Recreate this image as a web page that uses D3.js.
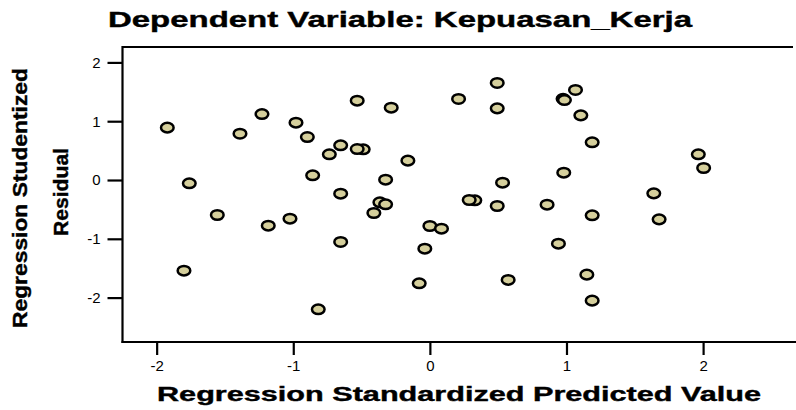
<!DOCTYPE html>
<html>
<head>
<meta charset="utf-8">
<script src="https://cdn.jsdelivr.net/npm/d3@7"></script>
<style>
  body { margin: 0; background: #fff; }
  svg { display: block; font-family: "Liberation Sans", Arial, sans-serif; }
</style>
</head>
<body>
<svg id="chart" width="796" height="410"></svg>
<script>
// Regression standardized predicted value (x) and studentized residual (y)
var predicted = [
  -1.922, -1.761, -1.556, -1.80, -1.39, -1.229, -1.183, -1.024, -0.980, -0.897,
  -0.858, -0.817, -0.736, -0.653, -0.653, -0.653, -0.532, -0.488, -0.532, -0.410,
  -0.366, -0.324, -0.324, -0.283, -0.161, -0.078, -0.037, 0.0, 0.085, 0.21,
  0.493, 0.493, 0.975, 0.985, 1.066, 1.105, 1.188, 0.98, 0.532, 0.329,
  0.288, 0.493, 0.858, 1.188, 0.941, 0.573, 1.149, 1.188, 1.965, 2.004,
  1.639, 1.678
];
var residual = [
  0.89, -0.056, -0.595, -1.542, 0.787, 1.122, -0.777, -0.658, 0.975, 0.731,
  0.08, -2.199, 0.437, 0.59, -0.233, -1.054, 1.349, 0.522, 0.527, -0.561,
  -0.379, -0.413, 0.005, 1.23, 0.329, -1.757, -1.168, -0.782, -0.828, 1.378,
  1.65, 1.219, 1.38, 1.36, 1.531, 1.10, 0.641, 0.124, -0.046, -0.345,
  -0.34, -0.442, -0.42, -0.6, -1.083, -1.70, -1.61, -2.052, 0.437, 0.204,
  -0.227, -0.669
];
var xTicks = [-2, -1, 0, 1, 2];
var yTicks = [-2, -1, 0, 1, 2];

var title = 'Dependent Variable: Kepuasan_Kerja';
var xTitle = 'Regression Standardized Predicted Value';
var yTitle = ['Regression Studentized', 'Residual'];

var svg = d3.select('#chart');

// plot area
var plotL = 122.5, plotR = 796, plotT = 47, plotB = 342;

var x = d3.scaleLinear().domain([-2.25, 2.68]).range([plotL, plotR]);
var y = d3.scaleLinear().domain([-2.755, 2.262]).range([plotB, plotT]);

// frame top line (right edge is cut off in the picture)
svg.append('line')
  .attr('x1', plotL).attr('x2', 793).attr('y1', plotT).attr('y2', plotT)
  .attr('stroke', '#000').attr('stroke-width', 2.2);

// x axis
var xAxis = svg.append('g')
  .attr('transform', 'translate(0,' + plotB + ')')
  .call(d3.axisBottom(x).tickValues(xTicks).tickSize(13).tickSizeOuter(0).tickPadding(5)
    .tickFormat(function(d) { return String(d); }));
xAxis.select('.domain').remove();
xAxis.selectAll('line').attr('stroke-width', 2.2);
xAxis.selectAll('text').attr('font-size', 15).attr('fill', '#000')
  .attr('font-family', '"Liberation Sans", Arial, sans-serif');

// y axis
var yAxis = svg.append('g')
  .attr('transform', 'translate(' + plotL + ',0)')
  .call(d3.axisLeft(y).tickValues(yTicks).tickSize(15).tickSizeOuter(0).tickPadding(7)
    .tickFormat(function(d) { return String(d); }));
yAxis.select('.domain').remove();
yAxis.selectAll('line').attr('stroke-width', 2.2);
yAxis.selectAll('text').attr('font-size', 15).attr('fill', '#000')
  .attr('font-family', '"Liberation Sans", Arial, sans-serif');

svg.append('line')
  .attr('x1', plotL).attr('x2', plotL).attr('y1', plotT - 1).attr('y2', plotB + 1)
  .attr('stroke', '#000').attr('stroke-width', 2.2);
svg.append('line')
  .attr('x1', plotL - 1).attr('x2', plotR).attr('y1', plotB).attr('y2', plotB)
  .attr('stroke', '#000').attr('stroke-width', 2.2);

// points
var pts = predicted.map(function(d, i) { return {p: d, r: residual[i]}; });
svg.append('g').selectAll('ellipse')
  .data(pts)
  .enter().append('ellipse')
    .attr('cx', function(d) { return x(d.p); })
    .attr('cy', function(d) { return y(d.r); })
    .attr('rx', 6.3)
    .attr('ry', 4.8)
    .attr('fill', '#d5cf9c')
    .attr('stroke', '#000')
    .attr('stroke-width', 2.5);

// titles (slight stroke to get the heavy look of the original)
function heavy(t) {
  return t.attr('font-weight', 'bold').attr('fill', '#000')
    .attr('stroke', '#000').attr('stroke-width', 0.4)
    .attr('lengthAdjust', 'spacingAndGlyphs');
}

heavy(svg.append('text')
  .attr('x', 108).attr('y', 27)
  .attr('font-size', 22)
  .attr('textLength', 584))
  .text(title);

heavy(svg.append('text')
  .attr('x', 157).attr('y', 401)
  .attr('font-size', 21)
  .attr('textLength', 604))
  .text(xTitle);

heavy(svg.append('text')
  .attr('transform', 'translate(27,328) rotate(-90)')
  .attr('font-size', 20)
  .attr('textLength', 260))
  .text(yTitle[0]);

heavy(svg.append('text')
  .attr('transform', 'translate(68,236) rotate(-90)')
  .attr('font-size', 20)
  .attr('textLength', 88))
  .text(yTitle[1]);
</script>
</body>
</html>
